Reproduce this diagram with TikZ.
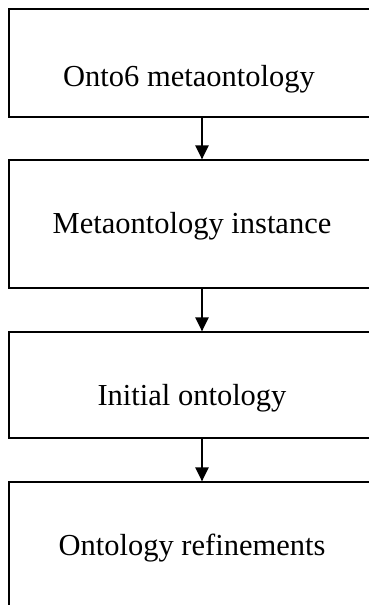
\documentclass[tikz,border=0pt]{standalone}
\usepackage{fontspec}
\setmainfont{Liberation Serif}
\usetikzlibrary{arrows.meta}
\begin{document}
\begin{tikzpicture}[x=1pt,y=-1pt,
  stagebox/.style={draw=black, line width=1.2pt, rectangle, inner sep=0pt, minimum width=386pt},
  stagetext/.style={anchor=base, inner sep=0pt, font=\fontsize{30.5}{36}\selectfont},
  flow/.style={line width=2.2pt, -{Triangle[length=14pt,width=13pt]}}]
  \useasboundingbox (0,0) rectangle (368,605);
  % stage boxes (right edges and the last bottom edge run past the page)
  \node[stagebox, minimum height=108pt] (b1) at (202,63) {};
  \node[stagebox, minimum height=128pt] (b2) at (202,224) {};
  \node[stagebox, minimum height=106pt] (b3) at (202,385) {};
  \node[stagebox, minimum height=143pt] (b4) at (202,553.5) {};
  % stage titles
  \node[stagetext] (t1) at (189,86) {Onto6 metaontology};
  \node[stagetext] (t2) at (192,233) {Metaontology instance};
  \node[stagetext] (t3) at (192,405) {Initial ontology};
  \node[stagetext] (t4) at (192,555) {Ontology refinements};
  % flow between stages
  \draw[flow] (b1.south) -- (b2.north);
  \draw[flow] (b2.south) -- (b3.north);
  \draw[flow] (b3.south) -- (b4.north);
\end{tikzpicture}
\end{document}
